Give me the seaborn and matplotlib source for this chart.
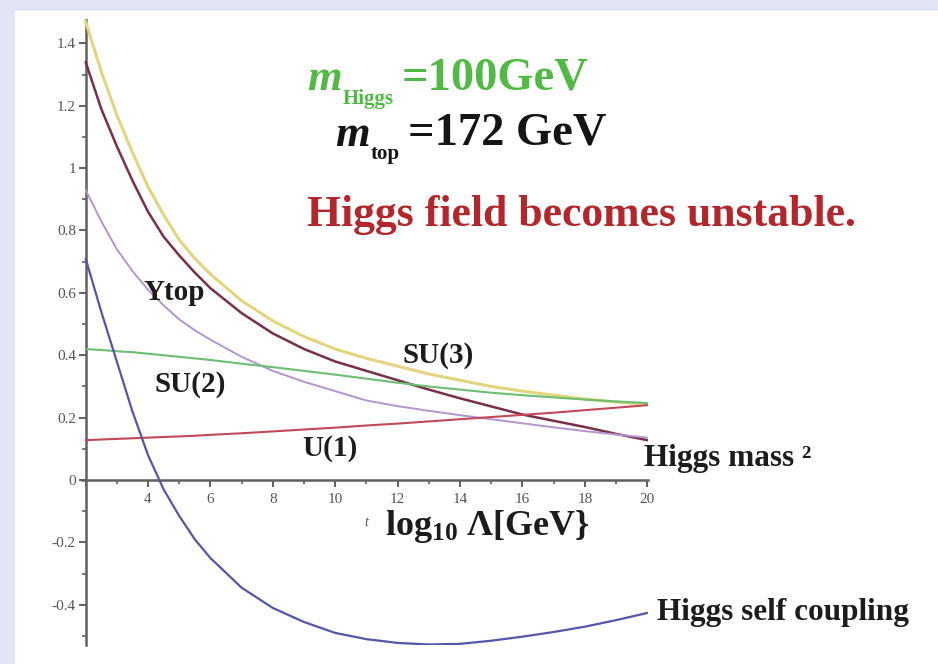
import matplotlib
matplotlib.use("Agg")
import matplotlib.pyplot as plt
import seaborn as sns
import numpy as np
import pandas as pd
from matplotlib.patches import Rectangle
from matplotlib.ticker import FixedLocator, FuncFormatter

# ---- data ----
x_vals = [2, 2.5, 3, 3.5, 4, 4.5, 5, 5.5, 6, 7, 8, 9, 10, 11, 12, 13, 14, 15, 16, 17, 18, 19, 20]
su3 = [1.47, 1.31, 1.17, 1.05, 0.94, 0.85, 0.77, 0.71, 0.66, 0.575, 0.51, 0.46, 0.42, 0.39, 0.365, 0.34,
       0.32, 0.30, 0.285, 0.272, 0.26, 0.25, 0.242]
higgs_mass2 = [1.34, 1.19, 1.07, 0.96, 0.86, 0.78, 0.72, 0.665, 0.615, 0.535, 0.47, 0.42, 0.38, 0.35, 0.32,
               0.29, 0.262, 0.236, 0.21, 0.19, 0.17, 0.148, 0.128]
ytop = [0.93, 0.83, 0.74, 0.67, 0.61, 0.56, 0.515, 0.48, 0.45, 0.395, 0.35, 0.315, 0.285, 0.255, 0.237,
        0.222, 0.208, 0.195, 0.182, 0.169, 0.157, 0.146, 0.136]
su2 = [0.42, 0.417, 0.413, 0.41, 0.405, 0.40, 0.395, 0.39, 0.385, 0.373, 0.362, 0.35, 0.338, 0.325, 0.312,
       0.30, 0.29, 0.28, 0.272, 0.265, 0.258, 0.252, 0.247]
u1 = [0.128, 0.13, 0.132, 0.134, 0.136, 0.138, 0.14, 0.142, 0.145, 0.15, 0.156, 0.162, 0.168, 0.175, 0.181,
      0.188, 0.195, 0.202, 0.209, 0.216, 0.224, 0.232, 0.24]
self_coupling = [0.71, 0.54, 0.38, 0.22, 0.08, -0.03, -0.115, -0.19, -0.25, -0.345, -0.41, -0.455, -0.49,
                 -0.51, -0.522, -0.527, -0.525, -0.515, -0.502, -0.487, -0.47, -0.449, -0.426]

y_major = [-0.4, -0.2, 0, 0.2, 0.4, 0.6, 0.8, 1.0, 1.2, 1.4]
x_major = [2, 4, 6, 8, 10, 12, 14, 16, 18, 20]

series = {
    "SU(3)": (su3, "#e3d47e", 2.2),
    "Higgs mass2": (higgs_mass2, "#7a2f48", 1.8),
    "Ytop": (ytop, "#b594cf", 1.4),
    "SU(2)": (su2, "#6cbf72", 1.5),
    "U(1)": (u1, "#c4475a", 1.5),
    "Higgs self coupling": (self_coupling, "#5656a8", 1.6),
}

sns.set_style("white")
plt.rcParams["font.family"] = ["Liberation Serif", "DejaVu Serif"]
plt.rcParams["mathtext.fontset"] = "custom"
plt.rcParams["mathtext.rm"] = "Liberation Serif:bold"
plt.rcParams["mathtext.bf"] = "Liberation Serif:bold"
plt.rcParams["mathtext.it"] = "Liberation Serif:italic:bold"

fig = plt.figure(figsize=(9.38, 6.64), dpi=100)
fig.patch.set_facecolor("#e3e5f6")
fig.patches.append(Rectangle((15 / 938, 0), 1 - 15 / 938, 1 - 11 / 664, transform=fig.transFigure,
                             facecolor="white", edgecolor="none", zorder=-10))

ax = fig.add_axes([0.0873, 0.028, 0.6034, 0.942])
ax.set_facecolor("none")
ax.set_zorder(2)

for name, (vals, col, lw) in series.items():
    df = pd.DataFrame({"x": x_vals, "y": vals})
    sns.lineplot(data=df, x="x", y="y", ax=ax, color=col, lw=lw, sort=False, zorder=3)

ax.set_xlim(1.88, 20.02)
ax.set_ylim(-0.53, 1.475)
ax.set_xlabel("")
ax.set_ylabel("")

for s in ["top", "right"]:
    ax.spines[s].set_visible(False)
ax.spines["left"].set_position(("data", 2))
ax.spines["bottom"].set_position(("data", 0))
for s in ["left", "bottom"]:
    ax.spines[s].set_color("#606060")
    ax.spines[s].set_linewidth(1.8)

ax.yaxis.set_major_locator(FixedLocator(y_major))
ax.yaxis.set_minor_locator(FixedLocator([v / 10 for v in range(-5, 15, 2)]))
ax.yaxis.set_major_formatter(FuncFormatter(lambda v, p: f"{v:g}"))
ax.xaxis.set_major_locator(FixedLocator(x_major))
ax.xaxis.set_minor_locator(FixedLocator(list(range(3, 20, 2))))
ax.xaxis.set_major_formatter(FuncFormatter(lambda v, p: "" if v == 2 else f"{v:g}"))
ax.tick_params(axis="both", which="both", left=True, bottom=True, direction="out", color="#606060")
ax.tick_params(axis="both", which="major", length=5, width=1.4,
               labelsize=11, labelcolor="#555555")
ax.tick_params(axis="both", which="minor", length=3, width=1.2)
ax.tick_params(axis="x", pad=4)
ax.tick_params(axis="y", pad=2)

lab = dict(fontsize=21, fontweight="bold", color="#1c1c1c", clip_on=False, zorder=5)
ax.text(4.84, 0.60, "Ytop", ha="center", va="center", **lab)
ax.text(13.3, 0.40, "SU(3)", ha="center", va="center", **lab)
ax.text(5.35, 0.305, "SU(2)", ha="center", va="center", **lab)
ax.text(9.83, 0.10, "U(1)", ha="center", va="center", **lab)
lab_r = dict(lab, fontsize=22.5)
ax.text(19.9, 0.07, "Higgs mass ²", ha="left", va="center", **lab_r)
ax.text(20.3, -0.423, "Higgs self coupling", ha="left", va="center", **lab_r)

ax.text(11.58, -0.15, "log$_{10}$ Λ[GeV}", ha="left", va="center", fontsize=26,
        fontweight="bold", color="#1c1c1c", clip_on=False)
ax.text(11.0, -0.135, "t", ha="center", va="center", fontsize=10, style="italic",
        color="#555555", clip_on=False)


def mass_line(x0, y0, sub, rest, color):
    t1 = ax.text(x0, y0, "m", fontsize=32, style="italic", fontweight="bold", color=color,
                 ha="left", va="baseline", clip_on=False)
    t2 = ax.annotate(sub, xy=(1, 0), xycoords=t1, xytext=(0.5, -7), textcoords="offset points",
                     fontsize=15, fontweight="bold", color=color, ha="left", va="bottom",
                     annotation_clip=False)
    ax.annotate(rest, xy=(1, 0), xycoords=(t2, t1), xytext=(6, 0), textcoords="offset points",
                fontsize=33.5, fontweight="bold", color=color, ha="left", va="bottom",
                annotation_clip=False)


mass_line(9.09, 1.25, "Higgs", "=100GeV", "#52b946")
mass_line(9.99, 1.072, "top", "=172 GeV", "#151515")

ax.text(9.09, 0.849, "Higgs field becomes unstable.", ha="left", va="center", fontsize=31.5,
        fontweight="bold", color="#b3262b", clip_on=False)

fig.savefig("out.png", dpi=100, facecolor=fig.get_facecolor())
